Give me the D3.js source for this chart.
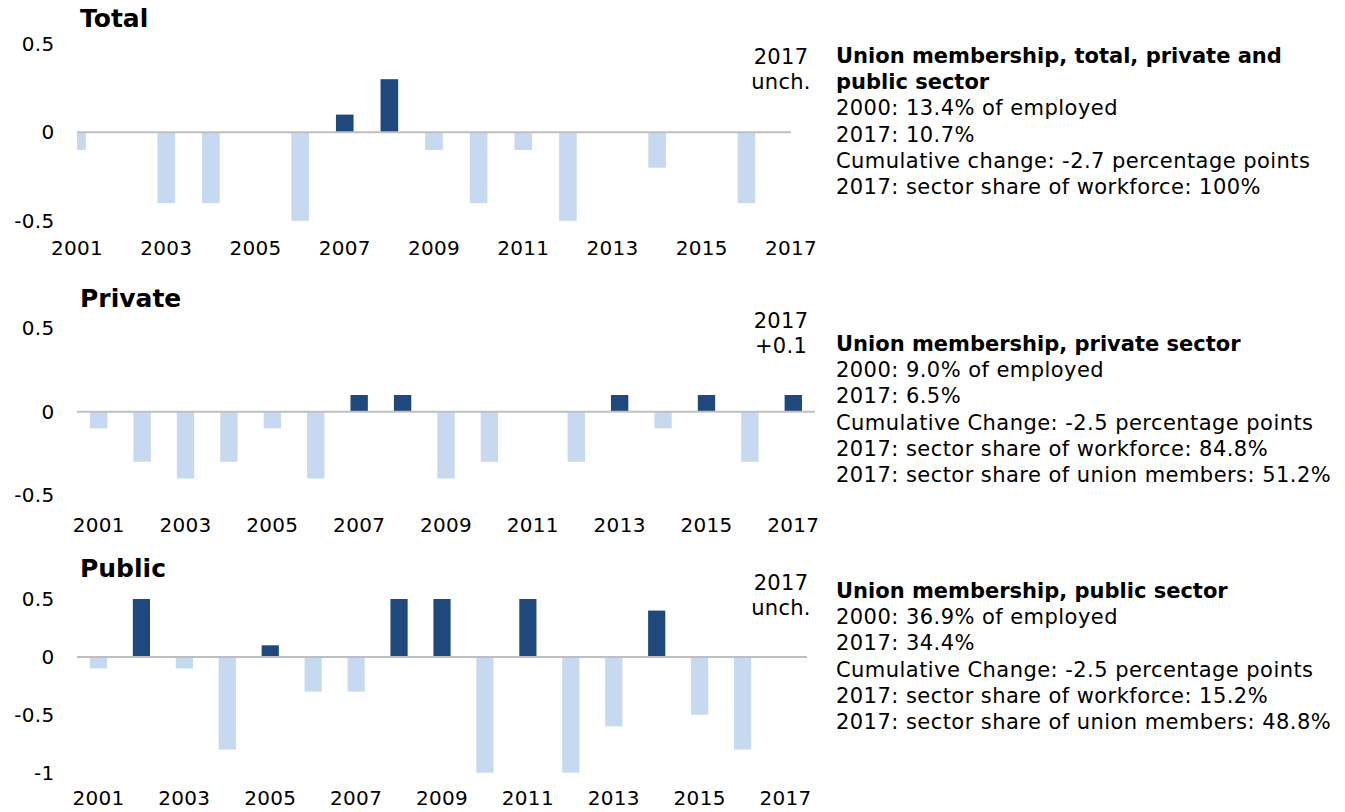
<!DOCTYPE html>
<html>
<head>
<meta charset="utf-8">
<script src="https://cdn.jsdelivr.net/npm/d3@7"></script>
<style>
  body { margin: 0; background: #ffffff; }
  svg { font-family: "DejaVu Sans", Verdana, sans-serif; }
</style>
</head>
<body>
<div id="wrapper"></div>
<script>
// values (change in percentage points, year over year)
const years = ["2001", "2002", "2003", "2004", "2005", "2006", "2007", "2008", "2009",
    "2010", "2011", "2012", "2013", "2014", "2015", "2016", "2017"]
const yearTicks = ["2001", "2003", "2005", "2007", "2009", "2011", "2013", "2015", "2017"]

const totalChange = [-0.1, 0, -0.4, -0.4, 0, -0.5, 0.1, 0.3, -0.1, -0.4, -0.1, -0.5, 0, -0.2, 0, -0.4, 0]
const privateChange = [-0.1, -0.3, -0.4, -0.3, -0.1, -0.4, 0.1, 0.1, -0.4, -0.3, 0, -0.3, 0.1, -0.1, 0.1, -0.3, 0.1]
const publicChange = [-0.1, 0.5, -0.1, -0.8, 0.1, -0.3, -0.3, 0.5, 0.5, -1, 0.5, -1, -0.6, 0.4, -0.5, -0.8, 0]

const totalTicks = [-0.5, 0, 0.5]
const privateTicks = [-0.5, 0, 0.5]
const publicTicks = [-1, -0.5, 0, 0.5]

const panelTitles = ["Total", "Private", "Public"]
const totalNote = ["2017", "unch."]
const privateNote = ["2017", "+0.1"]
const publicNote = ["2017", "unch."]

const totalHeading = ["Union membership, total, private and", "public sector"]
const totalInfo = ["2000: 13.4% of employed", "2017: 10.7%",
    "Cumulative change: -2.7 percentage points", "2017: sector share of workforce: 100%"]
const privateHeading = ["Union membership, private sector"]
const privateInfo = ["2000: 9.0% of employed", "2017: 6.5%",
    "Cumulative Change: -2.5 percentage points", "2017: sector share of workforce: 84.8%",
    "2017: sector share of union members: 51.2%"]
const publicHeading = ["Union membership, public sector"]
const publicInfo = ["2000: 36.9% of employed", "2017: 34.4%",
    "Cumulative Change: -2.5 percentage points", "2017: sector share of workforce: 15.2%",
    "2017: sector share of union members: 48.8%"]

const colors = {up: "#1f497d", down: "#c6d9f1", zero: "#bfbfbf", text: "#000000"}

function drawCharts() {
    const svg = d3.select("#wrapper")
        .append("svg")
        .attr("width", 1345)
        .attr("height", 812)

    const panels = [
        {id: "total", title: panelTitles[0], values: totalChange, ticks: totalTicks, note: totalNote,
            heading: totalHeading, info: totalInfo,
            layout: {titleY: 26.7, yRange: [220.8, 43.8], xRange: [77, 791], kind: "point",
                labelY: 255.3, noteY: 64.3, infoY: 63}},
        {id: "private", title: panelTitles[1], values: privateChange, ticks: privateTicks, note: privateNote,
            heading: privateHeading, info: privateInfo,
            layout: {titleY: 307, yRange: [495.2, 328.2], xRange: [77, 815], kind: "band",
                labelY: 532.3, noteY: 328, infoY: 351}},
        {id: "public", title: panelTitles[2], values: publicChange, ticks: publicTicks, note: publicNote,
            heading: publicHeading, info: publicInfo,
            layout: {titleY: 577, yRange: [772.7, 599], xRange: [77, 807], kind: "band",
                labelY: 805.3, noteY: 590.3, infoY: 598}},
    ]

    panels.forEach(panel => drawPanel(svg, panel))
}

function createScales(panel) {
    const l = panel.layout
    const yScale = d3.scaleLinear()
        .domain(d3.extent(panel.ticks))
        .range(l.yRange)
    let xScale, barWidth, offset
    if (l.kind === "point") {
        xScale = d3.scalePoint().domain(years).range(l.xRange)
        barWidth = xScale.step() * 0.395
        offset = -barWidth / 2
    } else {
        xScale = d3.scaleBand().domain(years).range(l.xRange)
            .paddingInner(0.6)
            .paddingOuter(0.3)
        barWidth = xScale.bandwidth()
        offset = 0
    }
    const center = d => l.kind === "point" ? xScale(d) : xScale(d) + barWidth / 2
    return {xScale, yScale, barWidth, offset, center}
}

function drawPanel(svg, panel) {
    const l = panel.layout
    const {xScale, yScale, barWidth, offset, center} = createScales(panel)
    const g = svg.append("g").attr("class", panel.id)
    const data = years.map((year, i) => ({year, value: panel.values[i]}))

    // plot area clip, the first bar of the total panel sits on the edge
    g.append("clipPath")
        .attr("id", "clip-" + panel.id)
        .append("rect")
        .attr("x", l.xRange[0])
        .attr("width", l.xRange[1] - l.xRange[0])
        .attr("y", l.yRange[1] - 2)
        .attr("height", l.yRange[0] - l.yRange[1] + 4)

    g.append("g")
        .attr("clip-path", `url(#clip-${panel.id})`)
        .selectAll("rect")
        .data(data.filter(d => d.value !== 0))
        .join("rect")
        .attr("x", d => xScale(d.year) + offset)
        .attr("width", barWidth)
        .attr("y", d => yScale(Math.max(0, d.value)))
        .attr("height", d => Math.abs(yScale(d.value) - yScale(0)))
        .attr("fill", d => d.value > 0 ? colors.up : colors.down)

    g.append("line")
        .attr("x1", l.xRange[0])
        .attr("x2", l.xRange[1])
        .attr("y1", yScale(0))
        .attr("y2", yScale(0))
        .attr("stroke", colors.zero)
        .attr("stroke-width", 2)

    // y axis labels only
    const yAxis = g.append("g")
        .attr("transform", `translate(${l.xRange[0]},0)`)
        .call(d3.axisLeft(yScale).tickValues(panel.ticks).tickSize(0).tickPadding(22.5)
            .tickFormat(d => String(d)))
    yAxis.select(".domain").remove()
    yAxis.selectAll("text")
        .attr("font-size", 20)
        .attr("font-family", "DejaVu Sans, Verdana, sans-serif")
        .attr("letter-spacing", 0.3)
        .attr("fill", colors.text)

    // x axis labels under the plot
    g.append("g")
        .selectAll("text")
        .data(yearTicks)
        .join("text")
        .attr("x", d => center(d))
        .attr("y", l.labelY)
        .attr("text-anchor", "middle")
        .attr("font-size", 20)
        .attr("letter-spacing", 0.3)
        .attr("fill", colors.text)
        .text(d => d)

    g.append("text")
        .attr("x", 80)
        .attr("y", l.titleY)
        .attr("font-size", 25)
        .attr("font-weight", "bold")
        .attr("fill", colors.text)
        .text(panel.title)

    g.append("g")
        .selectAll("text")
        .data(panel.note)
        .join("text")
        .attr("x", 781)
        .attr("y", (d, i) => l.noteY + i * 25)
        .attr("text-anchor", "middle")
        .attr("font-size", 21)
        .attr("letter-spacing", 0.3)
        .attr("fill", colors.text)
        .text(d => d)

    const lines = panel.heading.map(t => ({t, bold: true}))
        .concat(panel.info.map(t => ({t, bold: false})))
    g.append("g")
        .selectAll("text")
        .data(lines)
        .join("text")
        .attr("x", 836)
        .attr("y", (d, i) => l.infoY + i * 26.2)
        .attr("font-size", 21)
        .attr("font-weight", d => d.bold ? "bold" : "normal")
        .attr("letter-spacing", d => d.bold ? 0 : 0.45)
        .attr("fill", colors.text)
        .text(d => d.t)
}

drawCharts()
</script>
</body>
</html>
